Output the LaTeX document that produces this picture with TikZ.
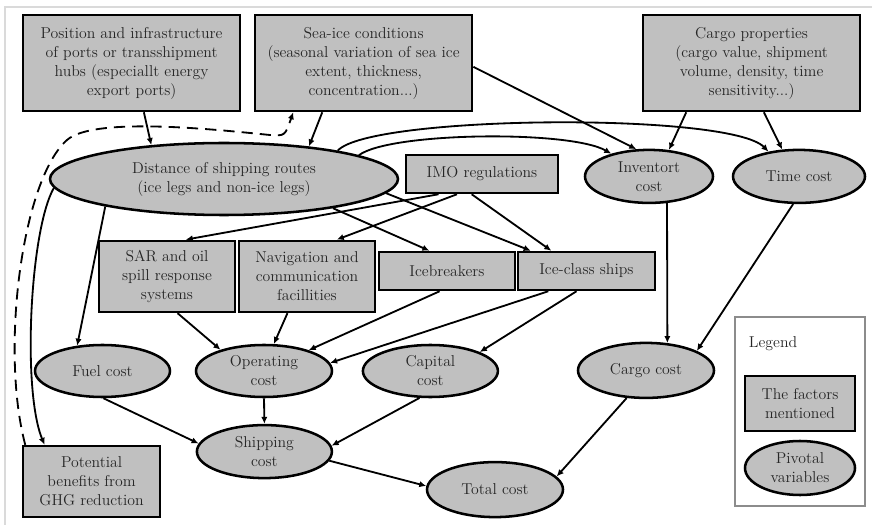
\documentclass[tikz,border=0pt]{standalone}
\usepackage{fontspec}
\usepackage{tikz}
\usetikzlibrary{shapes, arrows.meta, positioning, calc}
\definecolor{boxgray}{RGB}{192, 192, 192}
\definecolor{framegray}{RGB}{218, 218, 218}

\begin{document}
\begin{tikzpicture}[
  font=\fontsize{11.2}{13.5}\selectfont,
  factor/.style={draw, fill=boxgray, line width=1.8pt, align=center, inner sep=1pt, text=black!85},
  pivot/.style={draw, ellipse, fill=boxgray, line width=1.8pt, align=center, inner sep=1pt, text=black!85},
  link/.style={line width=1.3pt, -{Latex[length=5pt, width=4.5pt]}}
]
  \useasboundingbox (0, 0) rectangle (21.8, -13.175);
  \draw[framegray, line width=1pt] (0.12, -13.12) -- (0.12, -0.175) -- (21.8, -0.175);

  % factors on top
  \node[factor, minimum width=5.425cm, minimum height=2.4cm] (ports) at (3.29, -1.575) {Position and infrastructure\\of ports or transshipment\\hubs (especiallt energy\\export ports)};
  \node[factor, minimum width=5.425cm, minimum height=2.4cm] (seaice) at (9.09, -1.575) {Sea-ice conditions\\(seasonal variation of sea ice\\extent, thickness,\\concentration...)};
  \node[factor, minimum width=5.425cm, minimum height=2.4cm] (cargoprop) at (18.79, -1.575) {Cargo properties\\(cargo value, shipment\\volume, density, time\\sensitivity...)};

  \node[pivot, minimum width=8.7cm, minimum height=1.8cm] (routes) at (5.6, -4.475) {Distance of shipping routes\\(ice legs and non-ice legs)};
  \node[factor, minimum width=3.8cm, minimum height=0.95cm] (imo) at (12.05, -4.35) {IMO regulations};
  \node[pivot, minimum width=3.2cm, minimum height=1.325cm] (inventory) at (16.225, -4.41) {Inventort\\cost};
  \node[pivot, minimum width=3.3cm, minimum height=1.325cm] (timecost) at (19.975, -4.41) {Time cost};

  \node[factor, minimum width=3.4cm, minimum height=1.775cm] (sar) at (4.175, -6.91) {SAR and oil\\spill response\\systems};
  \node[factor, minimum width=3.4cm, minimum height=1.775cm] (navig) at (7.675, -6.91) {Navigation and\\communication\\facillities};
  \node[factor, minimum width=3.4cm, minimum height=0.95cm] (icebreak) at (11.175, -6.775) {Icebreakers};
  \node[factor, minimum width=3.425cm, minimum height=0.95cm] (iceclass) at (14.66, -6.775) {Ice-class ships};

  % cost variables
  \node[pivot, minimum width=3.375cm, minimum height=1.3cm] (fuel) at (2.5625, -9.275) {Fuel cost};
  \node[pivot, minimum width=3.4cm, minimum height=1.3cm] (operating) at (6.6, -9.275) {Operating\\cost};
  \node[pivot, minimum width=3.375cm, minimum height=1.3cm] (capital) at (10.76, -9.275) {Capital\\cost};
  \node[pivot, minimum width=3.4cm, minimum height=1.375cm] (cargocost) at (16.15, -9.26) {Cargo cost};
  \node[pivot, minimum width=3.375cm, minimum height=1.325cm] (shipping) at (6.61, -11.29) {Shipping\\cost};
  \node[pivot, minimum width=3.4cm, minimum height=1.375cm] (total) at (12.375, -12.24) {Total cost};
  \node[factor, minimum width=3.425cm, minimum height=1.775cm] (ghg) at (2.29, -12.04) {Potential\\benefits from\\GHG reduction};

  % legend
  \node[draw=black!45, line width=0.8pt, minimum width=3.25cm, minimum height=4.725cm] (legend) at (20, -10.2875) {};
  \node[anchor=west, text=black!85] (legtitle) at (18.6, -8.6) {Legend};
  \node[factor, minimum width=2.75cm, minimum height=1.375cm] (legfactor) at (20, -10.09) {The factors\\mentioned};
  \node[pivot, minimum width=2.75cm, minimum height=1.35cm] (legpivot) at (20, -11.7) {Pivotal\\variables};

  % links
  \draw[link] (ports.-76.5) -- (routes.155);
  \draw[link] (seaice.-130.8) -- (routes.21.5);
  \draw[link] (seaice.-2.6) -- (inventory.115);
  \draw[link] (cargoprop.-143.3) -- (inventory.53);
  \draw[link] (cargoprop.-76.5) -- (timecost.122);
  \draw[link] (routes.10.8) .. controls (9.75, -3.3) and (14.25, -3.25) .. (inventory.149);
  \draw[link] (routes.14.6) .. controls (9.25, -2.875) and (18.25, -2.8) .. (timecost.141);
  \draw[link] (routes.-167.5) -- (fuel.135.3);
  \draw[link] (routes.-177) .. controls (0.75, -5.75) and (0.55, -9.75) .. (ghg.142.6);
  \draw[link, dash pattern=on 8pt off 5pt] (ghg.151.2) .. controls (0, -8.75) and (0.55, -4.5) .. (1.675, -3.5)
    .. controls (2.35, -2.9) and (5.5, -3.25) .. (6.75, -3.375) .. controls (7.125, -3.4) .. (seaice.-145.7);
  \draw[link] (imo.-155.7) -- (sar.63.1);
  \draw[link] (imo.-141.6) -- (navig.51.7);
  \draw[link] (imo.-117.8) -- (iceclass.150.4);
  \draw[link] (routes.-15.7) -- (icebreak.131.8);
  \draw[link] (routes.-5.2) -- (iceclass.160.8);
  \draw[link] (sar.-74.3) -- (operating.154);
  \draw[link] (navig.-118.2) -- (operating.70.8);
  \draw[link] (icebreak.-110.2) -- (operating.25);
  \draw[link] (iceclass.-152.5) -- (operating.7.8);
  \draw[link] (iceclass.-116.6) -- (capital.21.3);
  \draw[link] (inventory.-56.3) -- (cargocost.52.7);
  \draw[link] (timecost.-102.8) -- (cargocost.21.3);
  \draw[link] (fuel.-88) -- (shipping.173.1);
  \draw[link] (operating.south) -- (shipping.north);
  \draw[link] (capital.-112.2) -- (shipping.5.6);
  \draw[link] (shipping.-8.1) -- (total.177);
  \draw[link] (cargocost.-125.7) -- (total.12.1);
\end{tikzpicture}
\end{document}
